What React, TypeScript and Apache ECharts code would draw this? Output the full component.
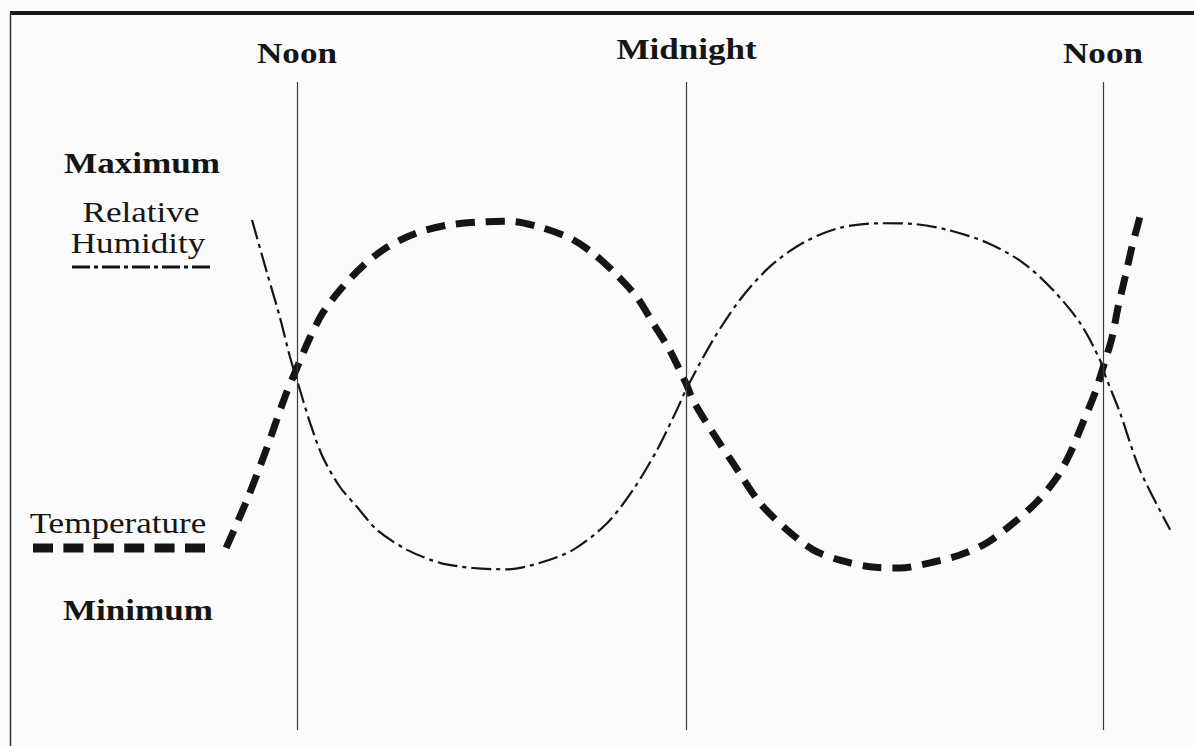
import { useEffect, useRef } from "react";
import * as echarts from "echarts";

// Time markers along the day (hours from the previous midnight)
const markerHours = [12, 23.6, 36];
const markerLabels = ["Noon", "Midnight", "Noon"];

// Visible time window
const hourMin = 9.5;
const hourMax = 38.5;

// Temperature through the day (relative scale 0–100)
const tempHours = [
  9.89, 10.51, 11.08, 11.64, 12.0, 12.39, 12.77, 13.28, 13.94, 14.68, 15.57, 16.47, 17.45,
  18.34, 19.24, 20.13, 20.81, 21.47, 22.12, 22.6, 23.1, 23.49, 23.61, 23.79, 24.39, 24.98,
  25.79, 26.59, 27.37, 28.17, 29.06, 29.96, 30.85, 31.74, 32.55, 33.32, 34.03, 34.63, 35.02,
  35.4, 35.76, 36.0, 36.27, 36.45, 36.66, 36.86, 37.1,
];
const tempValues = [
  28.1, 35.5, 43.2, 51.4, 55.9, 60.6, 64.4, 67.9, 71.5, 74.5, 76.7, 77.9, 78.4,
  78.5, 77.6, 75.9, 73.6, 70.5, 66.8, 62.8, 58.6, 54.5, 53.2, 50.9, 45.8, 41.2,
  35.0, 30.9, 27.8, 26.2, 25.2, 25.0, 25.8, 27.0, 28.9, 31.9, 35.2, 39.0, 42.7,
  47.4, 52.0, 55.9, 60.6, 65.3, 69.9, 74.5, 79.2,
];

// Relative humidity through the day (relative scale 0–100)
const rhHours = [
  10.66, 11.11, 11.49, 11.79, 12.0, 12.39, 12.77, 13.28, 13.79, 14.38, 15.28, 16.26, 17.24,
  18.25, 19.24, 20.22, 21.23, 22.0, 22.72, 23.31, 23.61, 24.39, 25.19, 26.08, 27.07, 28.17,
  29.36, 30.34, 31.36, 32.55, 33.62, 34.51, 35.32, 35.91, 36.06, 36.51, 37.1, 38.0,
];
const rhValues = [
  78.7, 70.5, 63.7, 57.6, 54.0, 47.4, 42.1, 37.5, 34.4, 30.9, 27.8, 25.8, 25.0,
  24.8, 25.8, 27.8, 31.9, 37.0, 43.2, 49.4, 52.8, 60.2, 66.4, 71.5, 75.2, 77.5,
  78.2, 78.1, 77.2, 75.2, 72.1, 67.9, 62.8, 57.1, 54.8, 48.9, 40.1, 30.9,
];

const zip = (xs: number[], ys: number[]) => xs.map((x, i) => [x, ys[i]]);

const SERIF = "'Liberation Serif', 'Times New Roman', serif";
const INK = "#151515";
const STRETCH = 1.17;

function label(text: string, x: number, y: number, bold: boolean) {
  return {
    type: "text",
    x,
    y,
    scaleX: STRETCH,
    silent: true,
    style: {
      text,
      fill: INK,
      font: `${bold ? "bold " : ""}30px ${SERIF}`,
      align: "center",
      textAlign: "center",
      verticalAlign: "middle",
      textVerticalAlign: "middle",
    },
  };
}

export default function App() {
  const ref = useRef<HTMLDivElement>(null);

  useEffect(() => {
    const chart = echarts.init(ref.current!, null, { renderer: "svg" });
    chart.setOption({
      animation: false,
      backgroundColor: "#fbfbfb",
      grid: { left: 213.04, right: 7.04, top: 82, bottom: 16 },
      xAxis: { type: "value", min: hourMin, max: hourMax, show: false },
      yAxis: { type: "value", min: 0, max: 100, show: false },
      series: [
        {
          name: "Relative Humidity",
          type: "line",
          data: zip(rhHours, rhValues),
          smooth: 0.3,
          showSymbol: false,
          silent: true,
          lineStyle: { color: INK, width: 2.2, type: [20, 5, 4, 5], cap: "butt" },
          markLine: {
            silent: true,
            symbol: "none",
            label: { show: false },
            lineStyle: { color: "#3a3a3a", width: 1.2, type: "solid" },
            data: markerHours.map((h) => ({ xAxis: h })),
          },
        },
        {
          name: "Temperature",
          type: "line",
          data: zip(tempHours, tempValues),
          smooth: 0.3,
          showSymbol: false,
          silent: true,
          lineStyle: { color: INK, width: 7, type: [19, 11], cap: "butt" },
        },
      ],
    });

    const markerText = markerHours.map((h, i) =>
      label(
        markerLabels[i],
        chart.convertToPixel({ xAxisIndex: 0 }, h) as number,
        markerLabels[i] === "Midnight" ? 49 : 53,
        true
      )
    );

    chart.setOption({
      graphic: [
        // frame: heavy rule across the top, thin rule down the left
        { type: "rect", silent: true, shape: { x: 10, y: 11, width: 1184, height: 4 }, style: { fill: "#1c1a17" } },
        { type: "line", silent: true, shape: { x1: 10.5, y1: 13, x2: 10.5, y2: 746 }, style: { stroke: "#333", lineWidth: 1.5 } },
        ...markerText,
        label("Maximum", 142, 163, true),
        label("Relative", 141, 212, false),
        label("Humidity", 138, 243, false),
        {
          type: "line",
          silent: true,
          shape: { x1: 72, y1: 267, x2: 210, y2: 267 },
          style: { stroke: INK, lineWidth: 3, lineDash: [18, 4, 4, 4] },
        },
        label("Temperature", 118, 523, false),
        {
          type: "line",
          silent: true,
          shape: { x1: 33, y1: 548, x2: 205, y2: 548 },
          style: { stroke: INK, lineWidth: 9, lineDash: [20, 10.4] },
        },
        label("Minimum", 138, 610, true),
      ],
    });

    return () => chart.dispose();
  }, []);

  return (
    <div
      ref={ref}
      style={{ position: "fixed", left: 0, top: 0, width: 1194, height: 746 }}
    />
  );
}
